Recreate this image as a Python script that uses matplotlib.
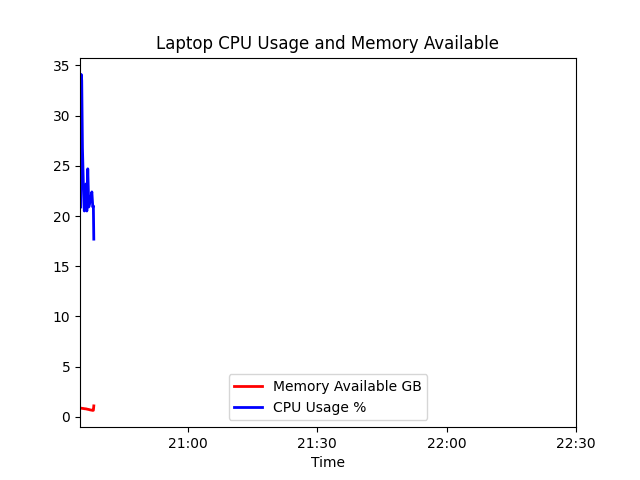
import matplotlib
matplotlib.use("Agg")
import matplotlib.pyplot as plt
import matplotlib.dates as mdates
import pandas as pd

start = pd.Timestamp("2024-01-01 20:35:00")
offsets_s = [10, 16, 24, 34, 46, 60, 85, 95, 108, 122, 142, 165, 178, 186, 192]
cpu_usage = [20.9, 34.1, 33.5, 26.8, 23.4, 20.5, 23.2, 20.5, 24.7, 20.9, 21.5, 22.4, 20.9, 21.0, 17.7]
memory_gb = [0.88, 0.87, 0.86, 0.85, 0.84, 0.82, 0.80, 0.78, 0.76, 0.74, 0.70, 0.67, 0.65, 0.66, 1.1]
times = [start + pd.Timedelta(seconds=s) for s in offsets_s]
x_end = pd.Timestamp("2024-01-01 22:30:00")

fig, ax = plt.subplots(figsize=(6.4, 4.8), dpi=100)
ax.plot(times, memory_gb, color="red", linewidth=2, label="Memory Available GB")
ax.plot(times, cpu_usage, color="blue", linewidth=2, label="CPU Usage %")
ax.set_xlim(start, x_end)
ax.xaxis.set_major_locator(mdates.MinuteLocator(byminute=[0, 30]))
ax.xaxis.set_major_formatter(mdates.DateFormatter("%H:%M"))
ax.set_title("Laptop CPU Usage and Memory Available")
ax.set_xlabel("Time")
ax.legend(loc="lower center")
fig.savefig("out.png")
